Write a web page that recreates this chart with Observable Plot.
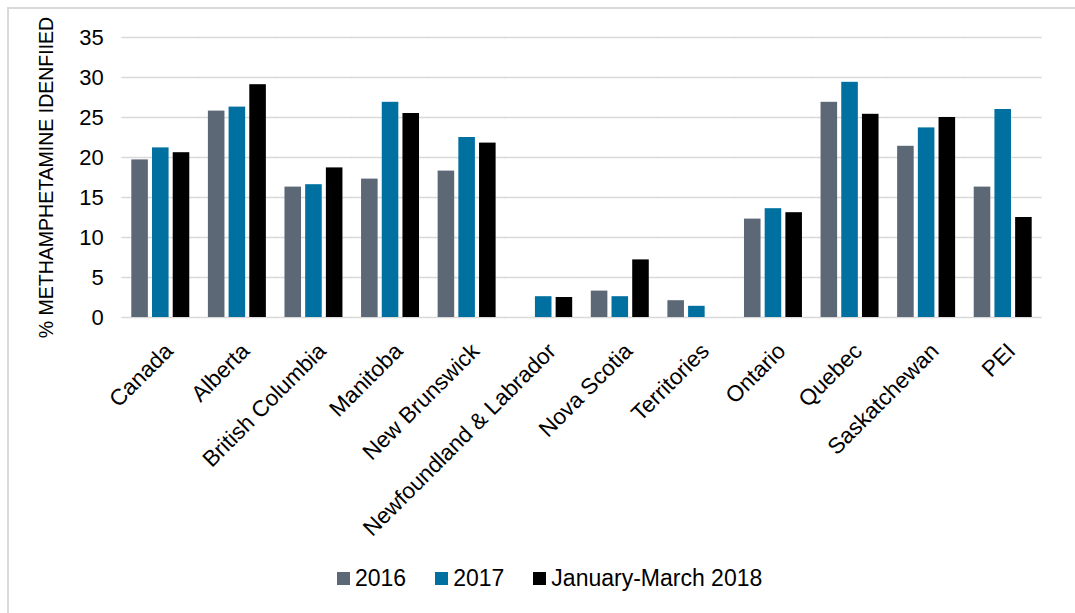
<!DOCTYPE html>
<html><head><meta charset="utf-8">
<script src="https://cdn.jsdelivr.net/npm/d3@7"></script>
<script src="https://cdn.jsdelivr.net/npm/@observablehq/plot@0.6"></script>
<style>
body{margin:0;background:#fff;font-family:"Liberation Sans",Arial,sans-serif;}
#wrap{position:relative;width:1075px;height:613px;overflow:hidden}
#border{position:absolute;left:7px;top:7px;right:-10px;bottom:-10px;border-left:2px solid #d9d9d9;border-top:2px solid #d9d9d9}
#chart{position:absolute;left:0;top:0}
#legend{position:absolute;left:337px;top:567px;display:flex;align-items:center;font-size:23px;color:#000;line-height:1}
.item{display:flex;align-items:center;margin-right:29px}
.sw{width:13px;height:13px;margin-right:5px}
</style></head><body>
<div id="wrap"><div id="border"></div><div id="chart"></div><div id="legend"></div></div>
<script>
const regions = ["Canada","Alberta","British Columbia","Manitoba","New Brunswick","Newfoundland & Labrador","Nova Scotia","Territories","Ontario","Quebec","Saskatchewan","PEI"];
const series = ["2016","2017","January-March 2018"];
const v2016 = [19.7,25.8,16.3,17.3,18.3,null,3.3,2.1,12.3,26.9,21.4,16.3];
const v2017 = [21.2,26.3,16.6,26.9,22.5,2.6,2.6,1.4,13.6,29.4,23.7,26.0];
const v2018 = [20.6,29.1,18.7,25.5,21.8,2.5,7.2,null,13.1,25.4,25.0,12.5];
const colors = ["#5d6877","#0070a0","#000000"];
const yTicks = [0,5,10,15,20,25,30,35];
const yLabel = "% METHAMPHETAMINE IDENFIIED";

const data = [];
regions.forEach((r,i)=>[v2016,v2017,v2018].forEach((arr,j)=>{
  if (arr[i] != null) data.push({region:r, series:series[j], value:arr[i]});
}));

const pInner = 0.243;
const chart = Plot.plot({
  width:1075, height:550, marginLeft:122, marginRight:34, marginTop:37, marginBottom:233,
  style:{fontFamily:'"Liberation Sans", Arial, sans-serif', background:"transparent", color:"#000"},
  fx:{domain:regions, paddingInner:pInner, paddingOuter:pInner/2, round:false, axis:null, label:null},
  x:{domain:series, paddingInner:0.2, paddingOuter:0, round:false, axis:null},
  y:{domain:[0,35], axis:null},
  color:{domain:series, range:colors},
  marks:[
    Plot.ruleY(yTicks,{stroke:"#d9d9d9", strokeWidth:1.5, insetLeft:-10, insetRight:-10}),
    Plot.barY(data,{fx:"region", x:"series", y:"value", fill:"series"}),
    Plot.text(regions,{fx:d=>d, text:d=>d, frameAnchor:"bottom", rotate:-45, textAnchor:"end", lineAnchor:"bottom", dx:13.5, dy:35, fontSize:22.5, fill:"#000"}),
    Plot.axisY(yTicks,{tickSize:0, tickPadding:28, fontSize:22, fill:"#000", label:null}),
    Plot.text([yLabel],{frameAnchor:"left", rotate:-90, textAnchor:"middle", lineAnchor:"middle", dx:-85, fontSize:19.5, fill:"#000", facetAnchor:"left"})
  ]
});
document.getElementById("chart").appendChild(chart);

const legend = document.getElementById("legend");
series.forEach((s,i)=>{
  const it = document.createElement("div"); it.className="item";
  const sw = document.createElement("span"); sw.className="sw"; sw.style.background=colors[i];
  const tx = document.createElement("span"); tx.textContent=s;
  it.appendChild(sw); it.appendChild(tx); legend.appendChild(it);
});
</script>
</body></html>
